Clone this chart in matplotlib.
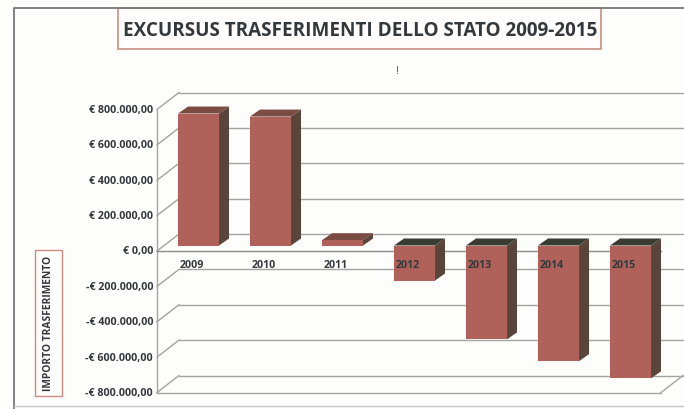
"""Excursus trasferimenti dello Stato 2009-2015: fake-3D column chart."""
import matplotlib
matplotlib.use("Agg")
import matplotlib.pyplot as plt
from matplotlib.patches import Rectangle
from matplotlib.transforms import Affine2D, IdentityTransform

# ============================== DATA ==============================
YEARS = ["2009", "2010", "2011", "2012", "2013", "2014", "2015"]
VALUES = [746000, 729000, 30000, -198000, -531000, -654000, -751000]
TICKS = [800000, 600000, 400000, 200000, 0, -200000, -400000, -600000, -800000]
TICK_LABELS = ["€ 800.000,00", "€ 600.000,00", "€ 400.000,00", "€ 200.000,00", "€ 0,00",
               "-€ 200.000,00", "-€ 400.000,00", "-€ 600.000,00", "-€ 800.000,00"]
TITLE = "EXCURSUS TRASFERIMENTI DELLO STATO 2009-2015"
YLABEL = "IMPORTO TRASFERIMENTO"
# ==================================================================

W, H = 684, 410
BACK = (22, 17)         # wall depth in pixels
BAR_OFF = (5.5, 5.5)    # bar front face relative to the front plane
BAR_DEPTH = (10, 7)
BAR_W = 0.57
GRID = "#a3a3a0"
FRONT, SIDE = "#b0625a", "#5a453b"
TOP_POS, TOP_NEG = "#7b4c42", "#3a3b33"
TXT = "#33383c"
PIXELS = IdentityTransform()

plt.rcParams["font.family"] = ["Open Sans", "DejaVu Sans"]
fig = plt.figure(figsize=(W / 100, H / 100), dpi=100, facecolor="#fdfdfc")

# pixel overlay for frames (y down, as on the picture)
bg = fig.add_axes([0, 0, 1, 1], zorder=0)
bg.set_xlim(0, W)
bg.set_ylim(H, 0)
bg.axis("off")
bg.plot([14, 14, W], [H, 8.5, 8.5], color="#77787a", lw=1.3)
bg.plot([14, W], [407, 407], color="#c4c4c4", lw=1)
bg.add_patch(Rectangle((117.5, 9), 483, 41, fc="#fffefd", ec="#c98f80", lw=1.2))
bg.text(360, 30.5, TITLE, ha="center", va="center", fontsize=13.6, weight="bold", color=TXT)
bg.text(397, 72, "!", ha="center", va="center", fontsize=8, color="#555555")
bg.add_patch(Rectangle((35, 251), 27, 146, fc="none", ec="#d08a80", lw=1))
bg.text(48.5, 323, YLABEL, rotation=90, ha="center", va="center", fontsize=7.4,
        weight="bold", color=TXT)

ax = fig.add_axes([157 / W, 1 - 393.5 / H, 504 / W, 283 / H], zorder=1)
ax.set_xlim(-0.5, 6.5)
ax.set_ylim(-800000, 800000)
ax.axis("off")


def shifted(dx, dy):
    return ax.transData + Affine2D().translate(dx, dy)


def face(a, b, color, zorder=3):
    # quad from two point pairs already in pixels
    pts = list(a) + list(b)
    ax.fill([p[0] for p in pts], [p[1] for p in pts], color=color, lw=0,
            transform=PIXELS, clip_on=False, zorder=zorder)


# walls and gridlines
back = shifted(*BACK)
ax.plot([-0.5, -0.5], [-800000, 800000], color=GRID, lw=1, clip_on=False)
for t, lab in zip(TICKS, TICK_LABELS):
    ax.plot([-0.5, 6.5], [t, t], color=GRID, lw=1, transform=back, clip_on=False)
    p0 = ax.transData.transform((-0.5, t))
    ax.plot([p0[0], p0[0] + BACK[0]], [p0[1], p0[1] + BACK[1]], color=GRID, lw=1,
            transform=PIXELS, clip_on=False)
    ax.text(-0.5, t, lab, transform=shifted(-4, 0), ha="right", va="center", fontsize=7.7,
            weight="bold", color=TXT, clip_on=False)
# front edge of the floor and the zero plane
ax.plot([-0.5, 6.5], [-800000, -800000], color=GRID, lw=1, clip_on=False)
ax.plot([-0.5, 6.5], [0, 0], color="#8c8c88", lw=1, clip_on=False)
corner = ax.transData.transform((6.5, -800000))
ax.plot([corner[0], corner[0] + BACK[0]], [corner[1], corner[1] + BACK[1]], color=GRID, lw=1,
        transform=PIXELS, clip_on=False)

# columns
front = shifted(*BAR_OFF)
rear = shifted(BAR_OFF[0] + BAR_DEPTH[0], BAR_OFF[1] + BAR_DEPTH[1])
for i, v in enumerate(VALUES):
    x0, x1 = i - BAR_W / 2, i + BAR_W / 2
    top = max(v, 0)
    ax.bar(i, v, BAR_W, color=FRONT, transform=front, clip_on=False, zorder=4)
    face(front.transform([(x1, 0), (x1, v)]), rear.transform([(x1, v), (x1, 0)]), SIDE)
    face(front.transform([(x0, top), (x1, top)]), rear.transform([(x1, top), (x0, top)]),
         TOP_POS if v > 0 else TOP_NEG)
    ax.text(i - 0.02, 0, YEARS[i], transform=shifted(0, -14), ha="center", va="center",
            fontsize=7.7, weight="bold", color=TXT, zorder=6, clip_on=False)

fig.savefig("out.png", dpi=100, facecolor=fig.get_facecolor())
